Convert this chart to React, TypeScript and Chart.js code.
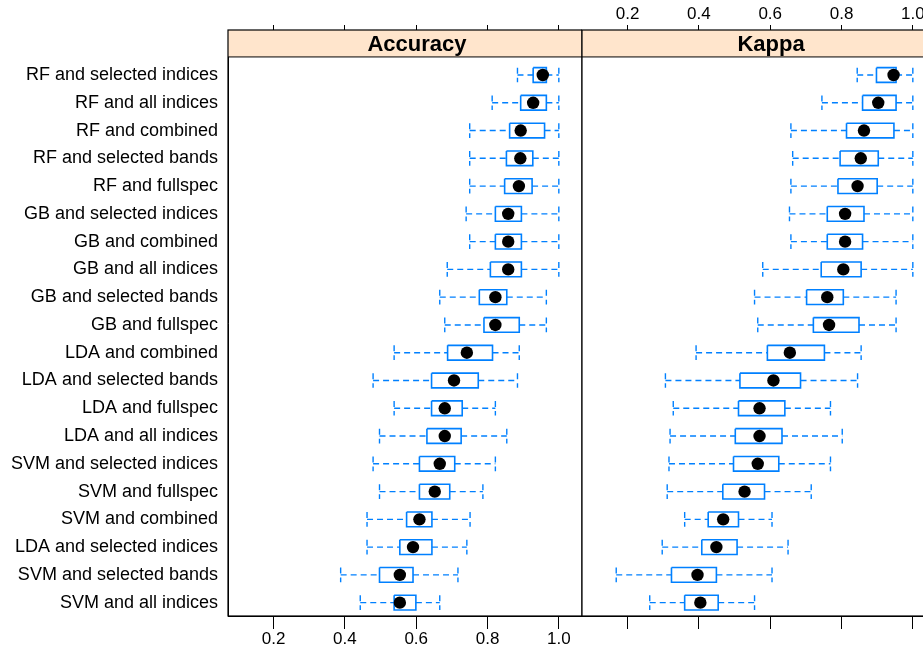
import React, { useEffect, useRef } from 'react';
import { Chart, registerables } from 'chart.js';

Chart.register(...registerables);

const categories = [
  'RF and selected indices',
  'RF and all indices',
  'RF and combined',
  'RF and selected bands',
  'RF and fullspec',
  'GB and selected indices',
  'GB and combined',
  'GB and all indices',
  'GB and selected bands',
  'GB and fullspec',
  'LDA and combined',
  'LDA and selected bands',
  'LDA and fullspec',
  'LDA and all indices',
  'SVM and selected indices',
  'SVM and fullspec',
  'SVM and combined',
  'LDA and selected indices',
  'SVM and selected bands',
  'SVM and all indices',
];

const accMin = [0.884, 0.813, 0.750, 0.750, 0.750, 0.740, 0.750, 0.687, 0.666, 0.680, 0.538, 0.479, 0.538, 0.497, 0.479, 0.497, 0.462, 0.462, 0.388, 0.443];
const accQ1 = [0.928, 0.893, 0.862, 0.853, 0.848, 0.822, 0.822, 0.808, 0.777, 0.790, 0.688, 0.643, 0.643, 0.630, 0.609, 0.609, 0.573, 0.554, 0.497, 0.538];
const accMed = [0.955, 0.928, 0.893, 0.892, 0.888, 0.858, 0.858, 0.858, 0.822, 0.822, 0.742, 0.706, 0.680, 0.680, 0.666, 0.652, 0.609, 0.591, 0.554, 0.554];
const accQ3 = [0.965, 0.965, 0.960, 0.927, 0.925, 0.895, 0.895, 0.895, 0.854, 0.889, 0.814, 0.774, 0.729, 0.726, 0.708, 0.694, 0.644, 0.644, 0.591, 0.599];
const accMax = [1, 1, 1, 1, 1, 1, 1, 1, 0.965, 0.965, 0.889, 0.884, 0.822, 0.854, 0.822, 0.787, 0.751, 0.742, 0.717, 0.666];

const kapMin = [0.844, 0.745, 0.658, 0.663, 0.658, 0.654, 0.658, 0.579, 0.556, 0.565, 0.392, 0.306, 0.328, 0.319, 0.316, 0.311, 0.360, 0.297, 0.168, 0.262];
const kapQ1 = [0.898, 0.859, 0.814, 0.796, 0.790, 0.760, 0.760, 0.743, 0.702, 0.721, 0.592, 0.515, 0.511, 0.502, 0.497, 0.467, 0.426, 0.408, 0.323, 0.360];
const kapMed = [0.946, 0.903, 0.863, 0.854, 0.845, 0.810, 0.810, 0.805, 0.760, 0.765, 0.655, 0.609, 0.570, 0.570, 0.565, 0.528, 0.468, 0.449, 0.396, 0.404];
const kapQ3 = [0.953, 0.953, 0.947, 0.903, 0.900, 0.863, 0.859, 0.855, 0.805, 0.849, 0.752, 0.685, 0.641, 0.633, 0.624, 0.584, 0.511, 0.507, 0.449, 0.454];
const kapMax = [1, 1, 1, 1, 1, 1, 1, 1, 0.953, 0.953, 0.855, 0.845, 0.769, 0.802, 0.769, 0.715, 0.605, 0.650, 0.605, 0.556];

const xTickValues = [0.2, 0.4, 0.6, 0.8, 1.0];
const xTickLabels = ['0.2', '0.4', '0.6', '0.8', '1.0'];

const FONT = '"Liberation Sans", Arial, Helvetica, sans-serif';
const BLUE = '#0080ff';
const HALF = 0.265;
const Y_MIN = -0.62;
const Y_MAX = 20.48;
const STRIP_BOTTOM = 0.35;
const X_MIN = 0.072;
const X_MAX = 1.065;

type PanelProps = {
  title: string;
  mins: number[];
  q1s: number[];
  meds: number[];
  q3s: number[];
  maxs: number[];
  showY: boolean;
  labelsTop: boolean;
  left: number;
  width: number;
  padLeft: number;
};

function Panel(p: PanelProps) {
  const ref = useRef<HTMLCanvasElement | null>(null);
  useEffect(() => {
    if (!ref.current) return;
    const boxData: any[] = [];
    const whiskerData: any[] = [];
    const medData: any[] = [];
    categories.forEach((_, i) => {
      const r = i + 1;
      const lo = p.q1s[i];
      const hi = p.q3s[i];
      boxData.push(
        { x: lo, y: r - HALF }, { x: hi, y: r - HALF }, { x: hi, y: r + HALF },
        { x: lo, y: r + HALF }, { x: lo, y: r - HALF }, { x: lo, y: null }
      );
      whiskerData.push(
        { x: p.mins[i], y: r }, { x: lo, y: r }, { x: lo, y: null },
        { x: hi, y: r }, { x: p.maxs[i], y: r }, { x: hi, y: null },
        { x: p.mins[i], y: r - HALF }, { x: p.mins[i], y: r + HALF }, { x: p.mins[i], y: null },
        { x: p.maxs[i], y: r - HALF }, { x: p.maxs[i], y: r + HALF }, { x: p.maxs[i], y: null }
      );
      medData.push({ x: p.meds[i], y: r });
    });

    const stripPlugin = {
      id: 'strip',
      beforeDatasetsDraw(chart: any) {
        const { ctx, chartArea: a, scales } = chart;
        const yb = scales.y.getPixelForValue(STRIP_BOTTOM);
        ctx.save();
        ctx.fillStyle = '#ffe5cc';
        ctx.fillRect(a.left, a.top, a.right - a.left, yb - a.top);
        ctx.strokeStyle = '#000';
        ctx.lineWidth = 1;
        ctx.beginPath();
        ctx.moveTo(a.left, yb);
        ctx.lineTo(a.right, yb);
        ctx.stroke();
        ctx.fillStyle = '#000';
        ctx.font = 'bold 22px ' + FONT;
        ctx.textAlign = 'center';
        ctx.textBaseline = 'middle';
        ctx.fillText(p.title, (a.left + a.right) / 2 + 12, (a.top + yb) / 2 + 1);
        ctx.restore();
      },
      afterDraw(chart: any) {
        const { ctx, chartArea: a } = chart;
        ctx.save();
        ctx.strokeStyle = '#000';
        ctx.lineWidth = 1.2;
        ctx.strokeRect(a.left, a.top, a.right - a.left, a.bottom - a.top);
        ctx.restore();
      },
    };

    const xAxis = (position: 'top' | 'bottom', showLabels: boolean, tickLength: number, height: number) => ({
      type: 'linear',
      position,
      min: X_MIN,
      max: X_MAX,
      display: true,
      afterBuildTicks: (axis: any) => {
        axis.ticks = xTickValues.map((v) => ({ value: v }));
      },
      afterFit: (axis: any) => {
        axis.height = height;
        axis.paddingLeft = 0;
        axis.paddingRight = 0;
        axis.paddingTop = 0;
        axis.paddingBottom = 0;
      },
      grid: {
        drawOnChartArea: false,
        drawTicks: true,
        tickLength,
        color: '#000',
        lineWidth: 1,
      },
      border: { display: true, color: '#000', width: 1 },
      ticks: {
        display: showLabels,
        autoSkip: false,
        maxRotation: 0,
        padding: 0,
        color: '#000',
        font: { family: FONT, size: 17 },
        callback: (_v: any, i: number) => xTickLabels[i],
      },
    });

    const chart = new Chart(ref.current, {
      type: 'scatter',
      data: {
        datasets: [
          {
            label: 'median',
            data: medData,
            showLine: false,
            pointRadius: 6.2,
            pointHoverRadius: 6.2,
            pointBackgroundColor: '#000',
            pointBorderWidth: 0,
            order: 0,
          },
          {
            label: 'box',
            data: boxData,
            showLine: true,
            spanGaps: false,
            borderColor: BLUE,
            borderWidth: 1.6,
            pointRadius: 0,
            fill: false,
            order: 1,
          },
          {
            label: 'whisker',
            data: whiskerData,
            showLine: true,
            spanGaps: false,
            borderColor: BLUE,
            borderWidth: 1.4,
            borderDash: [6, 4],
            pointRadius: 0,
            fill: false,
            order: 2,
          },
        ] as any,
      },
      options: {
        animation: false,
        responsive: false,
        devicePixelRatio: 1,
        layout: { autoPadding: false, padding: { left: p.padLeft, right: 0, top: 0, bottom: 0 } },
        plugins: {
          legend: { display: false },
          tooltip: { enabled: false },
        },
        scales: {
          x: xAxis('bottom', !p.labelsTop, 13, 35) as any,
          x2: xAxis('top', p.labelsTop, 5, 30) as any,
          y: {
            type: 'linear',
            reverse: true,
            min: Y_MIN,
            max: Y_MAX,
            display: p.showY,
            afterBuildTicks: (axis: any) => {
              axis.ticks = categories.map((_, i) => ({ value: i + 1 }));
            },
            afterFit: (axis: any) => {
              axis.width = p.showY ? 228 : 0;
              axis.paddingLeft = 0;
              axis.paddingRight = 0;
              axis.paddingTop = 0;
              axis.paddingBottom = 0;
            },
            grid: { drawOnChartArea: false, drawTicks: false },
            border: { display: true, color: '#000', width: 1 },
            ticks: {
              autoSkip: false,
              padding: 10,
              color: '#000',
              font: { family: FONT, size: 18 },
              callback: (v: any) => categories[Math.round(Number(v)) - 1],
            },
          } as any,
        },
      } as any,
      plugins: [stripPlugin],
    });
    return () => chart.destroy();
  }, []);

  return (
    <canvas
      ref={ref}
      width={p.width}
      height={651}
      style={{ position: 'absolute', left: p.left, top: 0, width: p.width, height: 651 }}
    />
  );
}

export default function App() {
  return (
    <div
      style={{
        position: 'absolute',
        left: 0,
        top: 0,
        width: 923,
        height: 651,
        overflow: 'hidden',
        background: '#fff',
      }}
    >
      <Panel
        title="Accuracy"
        mins={accMin}
        q1s={accQ1}
        meds={accMed}
        q3s={accQ3}
        maxs={accMax}
        showY={true}
        labelsTop={false}
        left={0}
        width={582}
        padLeft={0}
      />
      <Panel
        title="Kappa"
        mins={kapMin}
        q1s={kapQ1}
        meds={kapMed}
        q3s={kapQ3}
        maxs={kapMax}
        showY={false}
        labelsTop={true}
        left={581}
        width={355}
        padLeft={1}
      />
    </div>
  );
}
